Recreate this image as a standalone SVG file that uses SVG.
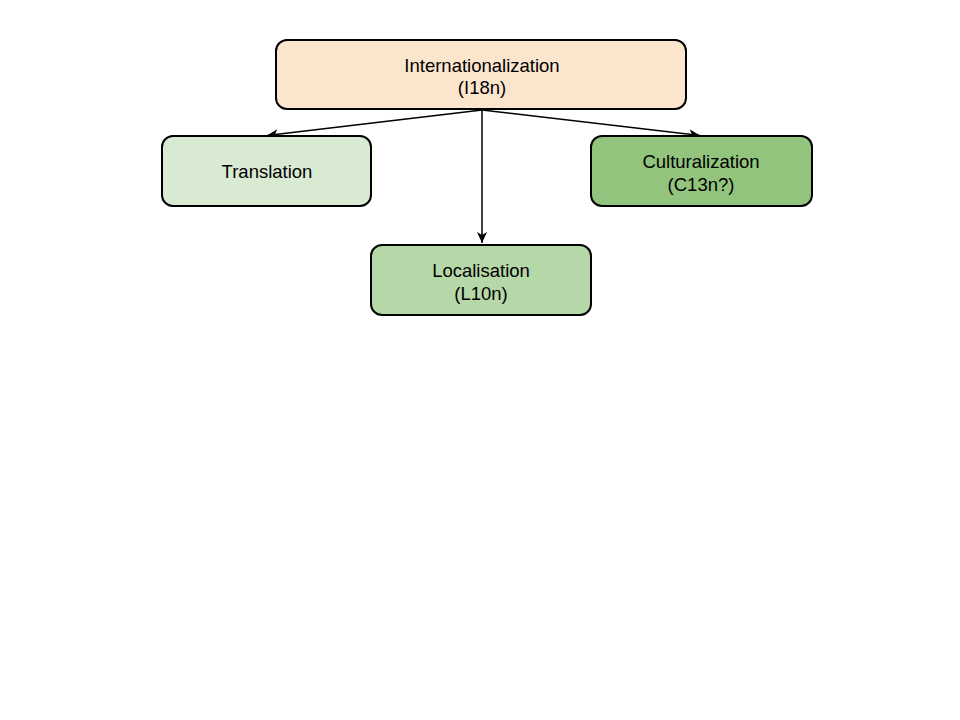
<svg xmlns="http://www.w3.org/2000/svg" width="960" height="720" viewBox="0 0 960 720">
<style>
.box{stroke:#000;stroke-width:2}
.t{font-family:"Liberation Sans",Arial,sans-serif;font-size:18.5px;fill:#000;text-anchor:middle}
.c{stroke:#000;stroke-width:1.5;fill:none}
</style>
<defs>
<marker id="arr" markerWidth="14" markerHeight="12" refX="11" refY="5.5" orient="auto" markerUnits="userSpaceOnUse">
<path d="M0,0.5 L11,5.5 L0,10.5 L3,5.5 Z" fill="#000"/>
</marker>
</defs>
<rect width="960" height="720" fill="#fff"/>
<g id="connectors">
<line class="c" x1="482" y1="110" x2="267" y2="135.5" marker-end="url(#arr)"/>
<line class="c" x1="482" y1="110" x2="700" y2="135.5" marker-end="url(#arr)"/>
<line class="c" x1="482" y1="110" x2="482" y2="243" marker-end="url(#arr)"/>
</g>
<g id="i18n">
<rect class="box" x="276" y="40" width="410" height="69" rx="11" fill="#fce5cd"/>
<text class="t" x="482" y="72">Internationalization</text>
<text class="t" x="482" y="94">(I18n)</text>
</g>
<g id="translation">
<rect class="box" x="162" y="136" width="209" height="70" rx="11" fill="#d9ead3"/>
<text class="t" x="267" y="178">Translation</text>
</g>
<g id="culturalization">
<rect class="box" x="591" y="136" width="221" height="70" rx="11" fill="#93c47d"/>
<text class="t" x="701" y="168">Culturalization</text>
<text class="t" x="701" y="191">(C13n?)</text>
</g>
<g id="localisation">
<rect class="box" x="371" y="245" width="220" height="70" rx="11" fill="#b6d7a8"/>
<text class="t" x="481" y="277">Localisation</text>
<text class="t" x="481" y="300">(L10n)</text>
</g>
</svg>
